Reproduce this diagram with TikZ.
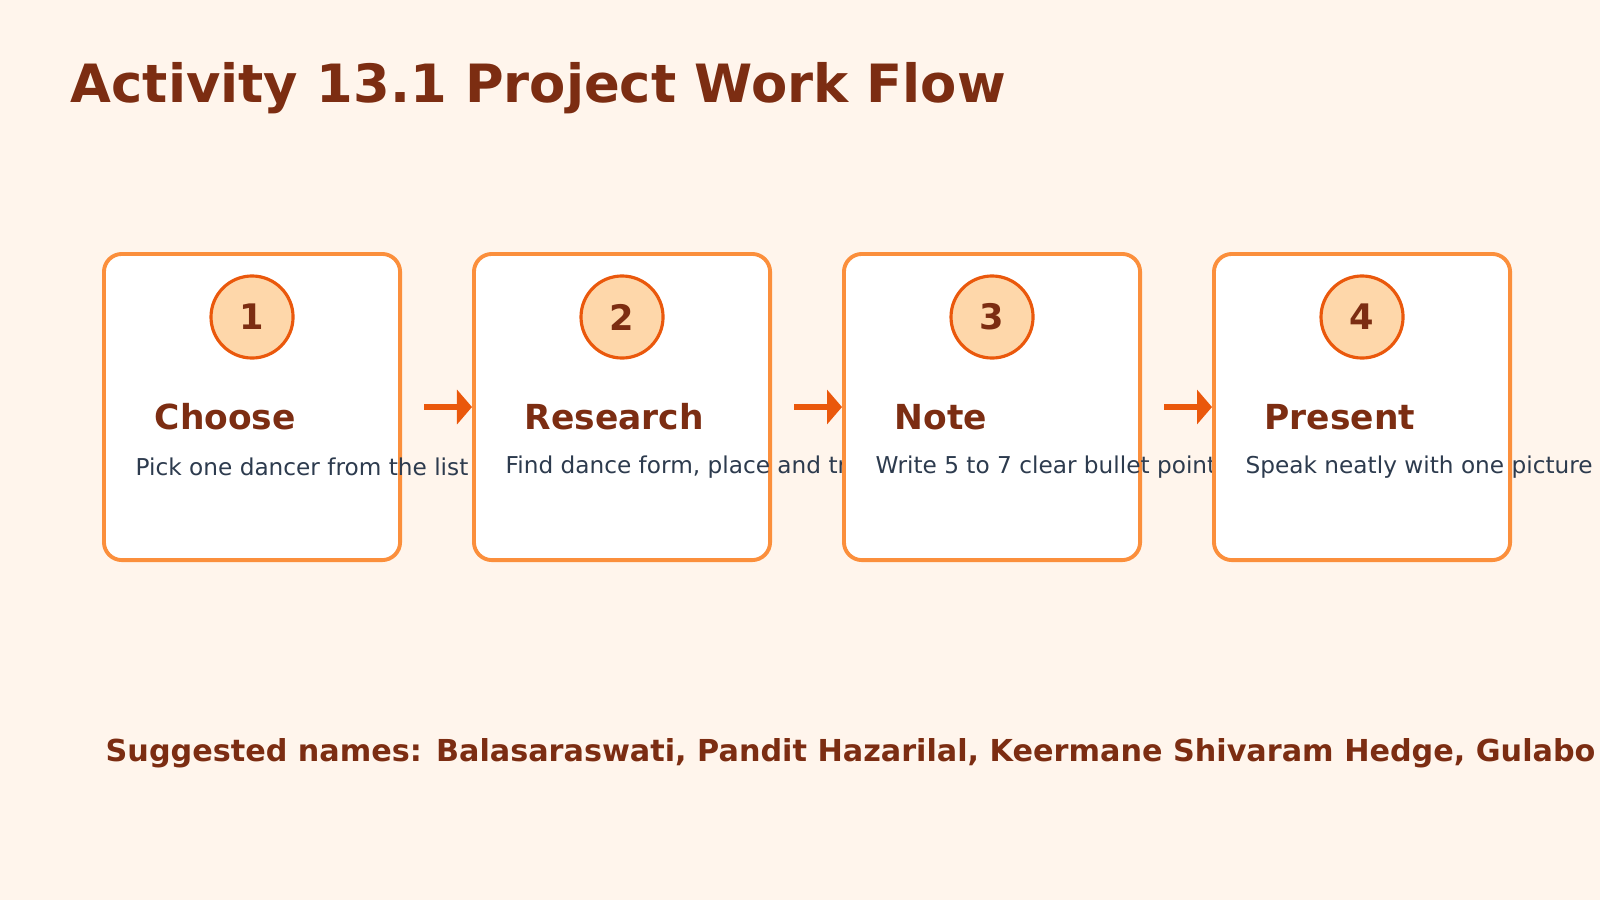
\documentclass[tikz,border=0pt]{standalone}
\usepackage{fontspec}
\setmainfont{DejaVu Sans}
\usetikzlibrary{positioning, arrows.meta, calc}

\definecolor{pagebg}{HTML}{FFF5EC}
\definecolor{boxline}{HTML}{FB8F3C}
\definecolor{titlebrown}{HTML}{7C2D12}
\definecolor{badgefill}{HTML}{FED7AA}
\definecolor{badgeline}{HTML}{EA580C}
\definecolor{desctext}{HTML}{2D3B4E}

\tikzset{
    step box/.style={draw=boxline, line width=1.1pt, fill=white, rounded corners=1.8mm,
        minimum width=2.96cm, minimum height=3.06cm, inner sep=0pt},
    badge/.style={circle, draw=badgeline, line width=0.9pt, fill=badgefill, minimum size=0.82cm,
        inner sep=0pt, font=\fontsize{10}{12}\selectfont\bfseries, text=titlebrown},
    step head/.style={anchor=west, font=\fontsize{9.8}{11}\selectfont\bfseries, text=titlebrown, inner sep=0pt},
    step text/.style={anchor=west, font=\fontsize{6.6}{8}\selectfont, text=desctext, inner sep=0pt},
    flow/.style={draw=badgeline, line width=1.7pt, -{Triangle[length=1.5mm, width=3.4mm]}, shorten <=2.2mm}
}

\begin{document}
\begin{tikzpicture}[x=0.01cm, y=-0.01cm]
    \fill[pagebg] (0,0) rectangle (1600,900);
    \useasboundingbox (0,0) rectangle (1600,900);
    \begin{scope}
    \clip (0,0) rectangle (1600,900);

    \node[anchor=west, inner sep=0pt, text=titlebrown, font=\fontsize{15}{17}\selectfont\bfseries] (title) at (70,88) {Activity 13.1 Project Work Flow};

    % four steps, each box drawn over the text of the one before
    \foreach \n/\head/\desc [count=\i from 0] in {1/Choose/{Pick one dancer from the list},
        2/Research/{Find dance form, place and training},
        3/Note/{Write 5 to 7 clear bullet points},
        4/Present/{Speak neatly with one picture}} {
        \node[step box, anchor=north west] (box\n) at (102+370*\i,252) {};
        \node[badge] (badge\n) at ($(box\n.north)+(0,65)$) {\n};
        \node[step head] (head\n) at ($(box\n.north west)+(52,165)$) {\head};
        \node[step text] (desc\n) at ($(box\n.north west)+(33,215)$) {\desc};
    };

    \draw[flow] (box1) -- (box2);
    \draw[flow] (box2) -- (box3);
    \draw[flow] (box3) -- (box4);

    \node[anchor=west, inner sep=0pt, text=titlebrown, font=\fontsize{8.6}{10}\selectfont\bfseries] (names) at (105,753)
        {Suggested names: Balasaraswati, Pandit Hazarilal, Keermane Shivaram Hedge, Gulabo Sapera};
    \end{scope}
\end{tikzpicture}
\end{document}
